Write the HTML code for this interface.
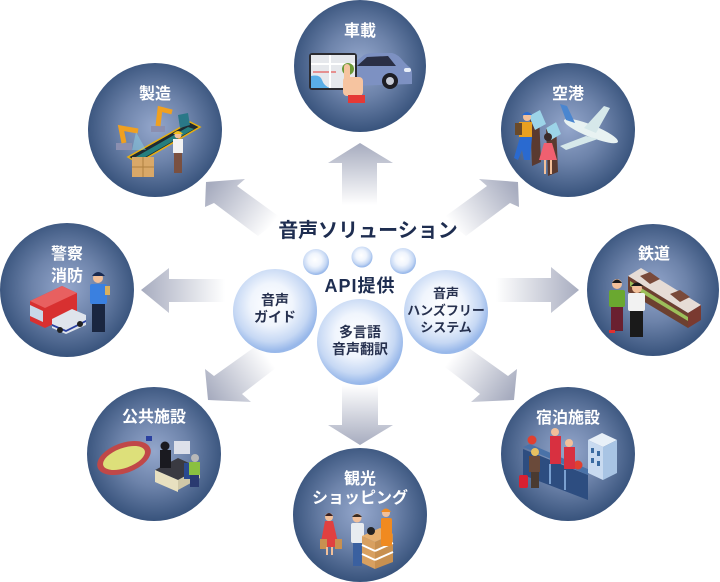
<!DOCTYPE html>
<html><head><meta charset="utf-8">
<style>
html,body{margin:0;padding:0;background:#fff;}
svg{display:block;}
text{font-family:"Liberation Sans","Noto Sans CJK JP",sans-serif;font-weight:bold;}
.w{fill:#fff;font-size:16px;text-anchor:middle;}
.b{fill:#27314f;font-size:14px;text-anchor:middle;}
</style></head>
<body>
<svg width="720" height="582" viewBox="0 0 720 582" xmlns="http://www.w3.org/2000/svg">
<defs>
<radialGradient id="cg" cx="50%" cy="48%" r="52%">
<stop offset="0" stop-color="#94a7cc"/>
<stop offset="0.5" stop-color="#6d83aa"/>
<stop offset="1" stop-color="#38537c"/>
</radialGradient>
<radialGradient id="bg" cx="46%" cy="42%" r="56%">
<stop offset="0" stop-color="#ffffff"/>
<stop offset="0.45" stop-color="#f0f5fd"/>
<stop offset="0.8" stop-color="#c6d8f4"/>
<stop offset="1" stop-color="#98b8ea"/>
</radialGradient>
<linearGradient id="aUp" x1="0" y1="143" x2="0" y2="205" gradientUnits="userSpaceOnUse"><stop offset="0" stop-color="#a7acbf"/><stop offset="1" stop-color="#fff"/></linearGradient>
<linearGradient id="aDn" x1="0" y1="445" x2="0" y2="385" gradientUnits="userSpaceOnUse"><stop offset="0" stop-color="#a7acbf"/><stop offset="1" stop-color="#fff"/></linearGradient>
<linearGradient id="aR" x1="580" y1="0" x2="496" y2="0" gradientUnits="userSpaceOnUse"><stop offset="0" stop-color="#a7acbf"/><stop offset="1" stop-color="#fff"/></linearGradient>
<linearGradient id="aL" x1="141" y1="0" x2="225" y2="0" gradientUnits="userSpaceOnUse"><stop offset="0" stop-color="#a7acbf"/><stop offset="1" stop-color="#fff"/></linearGradient>
<linearGradient id="aNW" x1="210" y1="185" x2="270" y2="228" gradientUnits="userSpaceOnUse"><stop offset="0" stop-color="#a7acbf"/><stop offset="1" stop-color="#fff"/></linearGradient>
<linearGradient id="aNE" x1="514" y1="185" x2="454" y2="228" gradientUnits="userSpaceOnUse"><stop offset="0" stop-color="#a7acbf"/><stop offset="1" stop-color="#fff"/></linearGradient>
<linearGradient id="aSE" x1="510" y1="397" x2="452" y2="356" gradientUnits="userSpaceOnUse"><stop offset="0" stop-color="#a7acbf"/><stop offset="1" stop-color="#fff"/></linearGradient>
<linearGradient id="aSW" x1="209" y1="397" x2="267" y2="356" gradientUnits="userSpaceOnUse"><stop offset="0" stop-color="#a7acbf"/><stop offset="1" stop-color="#fff"/></linearGradient>
</defs>

<!-- arrows -->
<polygon points="360,143 393,163 377,163 377,205 342,205 342,163 328,163" fill="url(#aUp)"/>
<polygon points="360,445 393,425 378,425 378,385 342,385 342,425 328,425" fill="url(#aDn)"/>
<polygon points="579,290 551,267 551,278 496,278 496,302 551,302 551,313" fill="url(#aR)"/>
<polygon points="141,290 169,268 169,279 225,279 225,302 169,302 169,313" fill="url(#aL)"/>
<polygon points="206,182 245,179 237,186 281,218 258,236 214,203 205,207" fill="url(#aNW)"/>
<polygon points="518,182 479,179 487,186 443,218 466,236 510,203 519,207" fill="url(#aNE)"/>
<polygon points="514,400 517,369 508,376 466,346 441,364 480,394 471,402" fill="url(#aSE)"/>
<polygon points="208,400 205,369 214,376 256,346 281,364 242,394 251,402" fill="url(#aSW)"/>

<!-- outer circles -->
<circle cx="360" cy="66" r="66" fill="url(#cg)"/>
<circle cx="155" cy="130" r="67" fill="url(#cg)"/>
<circle cx="568" cy="130" r="67" fill="url(#cg)"/>
<circle cx="67" cy="290" r="67" fill="url(#cg)"/>
<circle cx="653" cy="290" r="66" fill="url(#cg)"/>
<circle cx="154" cy="454" r="67" fill="url(#cg)"/>
<circle cx="568" cy="454" r="67" fill="url(#cg)"/>
<circle cx="360" cy="515" r="67" fill="url(#cg)"/>

<!-- 車載 illustration -->
<path d="M350,66 L364,55 Q368,53 374,53 L392,53 Q398,54 404,62 L408,66 Q412,68 412,74 L412,84 L350,86 Z" fill="#7d91c2"/>
<path d="M357,66 L367,57 L388,56 L396,66 Z" fill="#2a2f45"/>
<circle cx="390" cy="81" r="8" fill="#1e1e24"/><circle cx="390" cy="81" r="4" fill="#c8ccd6"/>
<rect x="404" y="68" width="7" height="4" rx="2" fill="#e8eef8"/>
<rect x="309" y="53" width="48" height="37" rx="3" fill="#2b2b30"/>
<rect x="311" y="55" width="44" height="33" fill="#e6e8ec"/>
<path d="M311,76 Q320,74 322,80 Q324,86 330,88 L311,88 Z" fill="#5aaee6"/>
<line x1="313" y1="72" x2="336" y2="72" stroke="#e53935" stroke-width="1"/>
<line x1="330" y1="55" x2="330" y2="88" stroke="#fff" stroke-width="2"/>
<line x1="311" y1="64" x2="355" y2="64" stroke="#fff" stroke-width="2"/>
<circle cx="348" cy="69" r="6" fill="#6c9a38"/>
<rect x="344" y="64" width="6" height="20" rx="3" fill="#f6c4a0"/>
<rect x="343" y="77" width="20" height="19" rx="4" fill="#f6c4a0"/>
<rect x="348" y="95" width="17" height="8" fill="#e53935"/>

<!-- 製造 illustration -->
<polygon points="128,157 190,122 200,127 138,163" fill="#1f2a33" stroke="#e8b010" stroke-width="1.5"/>
<polygon points="134,158 188,127 194,129 140,160" fill="#2ab8b0" opacity="0.6"/>
<rect x="116" y="143" width="16" height="7" fill="#8b8fb0"/>
<polyline points="124,143 121,128 138,131" fill="none" stroke="#f0a020" stroke-width="5"/>
<polygon points="136,132 146,150 132,150" fill="#8fe0f0" opacity="0.4"/>
<rect x="151" y="126" width="14" height="6" fill="#8b8fb0"/>
<polyline points="158,126 160,109 172,112" fill="none" stroke="#f0a020" stroke-width="5"/>
<path d="M178,115 L188,113 L190,125 L180,128 Z" fill="#2a7888"/>
<rect x="132" y="157" width="22" height="20" fill="#d9a868"/>
<line x1="132" y1="167" x2="154" y2="167" stroke="#b08040"/><line x1="143" y1="157" x2="143" y2="177" stroke="#b08040"/>
<circle cx="178" cy="135" r="3.5" fill="#f2c09a"/><path d="M173,134 Q178,128 183,134 Z" fill="#f2c020"/>
<rect x="173" y="139" width="10" height="14" fill="#f2f2f2"/>
<rect x="174" y="153" width="8" height="20" fill="#7a5040"/>

<!-- 空港 illustration -->
<ellipse cx="591" cy="131" rx="29" ry="6" transform="rotate(22 591 131)" fill="#e8f2f2"/>
<polygon points="584,128 604,106 610,108 596,133" fill="#d6e8ea"/>
<polygon points="586,136 560,146 566,150 598,139" fill="#d6e8ea"/>
<polygon points="566,120 560,104 567,106 575,123" fill="#4a86d0"/>
<polygon points="530,118 539,114 541,162 532,166" fill="#5a3a30"/>
<polygon points="529,116 540,110 546,124 535,130" fill="#9cd4e8"/>
<polygon points="546,128 556,122 558,172 548,176" fill="#5a3a30"/>
<polygon points="546,128 556,122 561,134 551,140" fill="#9cd4e8"/>
<circle cx="527" cy="117" r="4" fill="#f2c09a"/><path d="M522,115 Q527,109 532,115 Z" fill="#2a6ad0"/>
<rect x="519" y="122" width="13" height="15" fill="#e8a020"/>
<rect x="515" y="123" width="7" height="12" fill="#6a4a2a"/>
<polygon points="520,137 532,137 530,160 524,160 522,150 518,160 514,158" fill="#2a6ad0"/>
<circle cx="548" cy="137" r="4" fill="#3a2a2a"/>
<polygon points="544,143 552,143 557,160 539,160" fill="#f06070"/>
<rect x="544" y="160" width="2" height="14" fill="#f2c09a"/><rect x="550" y="160" width="2" height="14" fill="#f2c09a"/>

<!-- 警察消防 illustration -->
<polygon points="30,301 62,286 77,293 77,313 45,328 30,321" fill="#d83030"/>
<polygon points="30,301 62,286 77,293 45,308" fill="#e86060"/>
<polygon points="30,305 43,311 43,322 30,316" fill="#c8d8e8"/>
<polygon points="52,319 72,309 86,315 86,325 66,334 52,328" fill="#dfe4ec"/>
<polygon points="52,324 66,330 86,320 86,322 66,332 52,326" fill="#2a40a0"/>
<circle cx="60" cy="330" r="3" fill="#222"/><circle cx="80" cy="324" r="3" fill="#222"/>
<circle cx="98" cy="278" r="5" fill="#f2c09a"/>
<path d="M92,276 Q98,268 105,276 Z" fill="#1a2a50"/>
<rect x="90" y="284" width="17" height="20" rx="2" fill="#3a80e0"/>
<rect x="92" y="304" width="13" height="28" fill="#1a2640"/>
<rect x="105" y="286" width="5" height="9" fill="#d8b060"/>

<!-- 鉄道 illustration -->
<polygon points="628,276 641,268 701,305 688,313" fill="#e6dcd6"/>
<polygon points="628,276 688,313 688,328 628,292" fill="#6d4030"/>
<polygon points="630,281 688,317 688,321 630,286" fill="#9cbf5a"/>
<polygon points="688,313 701,305 701,320 688,328" fill="#7a3a30"/>
<polygon points="640,276 650,272 660,279 650,284" fill="#7a4a3a"/>
<polygon points="670,294 680,290 690,297 680,302" fill="#7a4a3a"/>
<circle cx="617" cy="284" r="5" fill="#f2c09a"/><path d="M612,283 Q617,276 622,283 Z" fill="#1a1a1a"/>
<rect x="609" y="290" width="16" height="17" rx="2" fill="#6aa830"/>
<rect x="611" y="307" width="12" height="24" fill="#6a2030"/>
<rect x="609" y="330" width="6" height="3" fill="#e03030"/>
<circle cx="637" cy="288" r="5" fill="#f2c09a"/><path d="M631,286 Q637,279 643,286 Z" fill="#1a1a1a"/>
<rect x="628" y="293" width="17" height="18" rx="2" fill="#f2f2f2"/>
<rect x="630" y="311" width="13" height="26" fill="#1a1a1a"/>

<!-- 公共施設 illustration -->
<ellipse cx="124" cy="458" rx="28" ry="15" transform="rotate(-20 124 458)" fill="#c04848"/>
<ellipse cx="124" cy="458" rx="22" ry="10" transform="rotate(-20 124 458)" fill="#dde07a"/>
<rect x="146" y="436" width="6" height="5" fill="#2a40a0"/>
<polygon points="155,470 178,458 200,468 178,480" fill="#3a3a42"/>
<polygon points="155,470 178,480 178,492 155,482" fill="#e8e0c0"/>
<polygon points="178,480 200,468 200,478 178,490" fill="#d0c8a8"/>
<rect x="174" y="441" width="16" height="13" fill="#dde0ea"/>
<circle cx="165" cy="446" r="4.5" fill="#1a1a20"/>
<rect x="160" y="450" width="11" height="18" fill="#1a1a20"/>
<rect x="184" y="463" width="10" height="16" fill="#2a4a90"/>
<circle cx="195" cy="458" r="4" fill="#b8b8b8"/>
<rect x="189" y="462" width="11" height="13" fill="#8ac040"/>
<rect x="190" y="475" width="9" height="12" fill="#2a3a70"/>

<!-- 宿泊施設 illustration -->
<polygon points="523,447 530,444 590,470 588,475" fill="#4a72a8"/>
<polygon points="523,449 588,475 588,500 523,475" fill="#2d4d80"/>
<line x1="535" y1="458" x2="535" y2="478" stroke="#7aa0d0" stroke-width="2"/>
<line x1="550" y1="464" x2="550" y2="484" stroke="#7aa0d0" stroke-width="2"/>
<line x1="565" y1="470" x2="565" y2="490" stroke="#7aa0d0" stroke-width="2"/>
<circle cx="532" cy="440" r="4.5" fill="#e04030"/>
<circle cx="578" cy="465" r="4.5" fill="#e04030"/>
<circle cx="555" cy="432" r="4" fill="#f2c09a"/>
<rect x="550" y="436" width="11" height="28" fill="#d83040"/>
<circle cx="569" cy="443" r="4" fill="#f2c09a"/>
<rect x="564" y="447" width="11" height="22" fill="#d83040"/>
<circle cx="535" cy="452" r="4" fill="#e8c060"/>
<rect x="529" y="456" width="11" height="16" fill="#6a4a3a"/>
<rect x="531" y="472" width="8" height="16" fill="#4a3a30"/>
<rect x="519" y="475" width="9" height="13" rx="2" fill="#d82030"/>
<polygon points="588,440 602,433 617,440 603,447" fill="#e8f0f8"/>
<polygon points="588,440 603,447 603,480 588,473" fill="#c8daf0"/>
<polygon points="603,447 617,440 617,473 603,480" fill="#a8c4e4"/>
<rect x="591" y="448" width="3" height="5" fill="#3a6aa0"/><rect x="597" y="451" width="3" height="5" fill="#3a6aa0"/>
<rect x="591" y="458" width="3" height="5" fill="#3a6aa0"/><rect x="597" y="461" width="3" height="5" fill="#3a6aa0"/>

<!-- 観光 illustration -->
<circle cx="329" cy="517" r="4" fill="#f2c09a"/><path d="M325,516 Q329,510 333,516 Z" fill="#3a2020"/>
<polygon points="325,521 333,521 339,547 320,547" fill="#e04040"/>
<rect x="320" y="539" width="7" height="10" fill="#c89050"/><rect x="335" y="539" width="7" height="10" fill="#c89050"/>
<rect x="326" y="547" width="2" height="8" fill="#f2c09a"/><rect x="331" y="547" width="2" height="8" fill="#f2c09a"/>
<circle cx="357" cy="518" r="4.5" fill="#f2c09a"/><path d="M352,517 Q357,511 362,517 Z" fill="#3a2a20"/>
<rect x="351" y="523" width="13" height="20" rx="2" fill="#e8ecf0"/>
<rect x="353" y="543" width="9" height="23" fill="#3a60a0"/>
<polygon points="362,536 380,528 393,534 375,542" fill="#e6b070"/>
<polygon points="362,536 375,542 375,569 362,563" fill="#d8a060"/>
<polygon points="375,542 393,534 393,562 375,569" fill="#c89050"/>
<line x1="362" y1="545" x2="375" y2="551" stroke="#fff" stroke-width="2"/>
<line x1="362" y1="554" x2="375" y2="560" stroke="#fff" stroke-width="2"/>
<line x1="375" y1="551" x2="393" y2="543" stroke="#fff" stroke-width="2"/>
<line x1="375" y1="560" x2="393" y2="552" stroke="#fff" stroke-width="2"/>
<circle cx="371" cy="531" r="4" fill="#222"/>
<circle cx="386" cy="513" r="4" fill="#f2c09a"/><path d="M381,512 Q386,505 391,512 Z" fill="#f08a20"/>
<rect x="381" y="518" width="11" height="28" rx="2" fill="#f08a20"/>

<!-- outer labels -->
<text class="w" x="360" y="36">車載</text>
<text class="w" x="155" y="99">製造</text>
<text class="w" x="568" y="99">空港</text>
<text class="w" x="67" y="259">警察</text>
<text class="w" x="67" y="281">消防</text>
<text class="w" x="654" y="259">鉄道</text>
<text class="w" x="154" y="422">公共施設</text>
<text class="w" x="568" y="423">宿泊施設</text>
<text class="w" x="360" y="484">観光</text>
<text class="w" x="360" y="503">ショッピング</text>

<!-- center -->
<text x="368" y="237" fill="#1e2d50" font-size="20" text-anchor="middle">音声ソリューション</text>
<circle cx="316" cy="262" r="13" fill="url(#bg)"/>
<circle cx="362" cy="257" r="10.5" fill="url(#bg)"/>
<circle cx="403" cy="261" r="13" fill="url(#bg)"/>
<circle cx="275" cy="311" r="42" fill="url(#bg)"/>
<circle cx="446" cy="312" r="42" fill="url(#bg)"/>
<circle cx="360" cy="342" r="43" fill="url(#bg)"/>
<text x="360" y="292" fill="#1e2d50" font-size="18" letter-spacing="1" text-anchor="middle">API提供</text>
<text class="b" x="275" y="305">音声</text>
<text class="b" x="275" y="322">ガイド</text>
<text class="b" x="360" y="337">多言語</text>
<text class="b" x="360" y="354">音声翻訳</text>
<text class="b" x="446" y="298" style="font-size:13px">音声</text>
<text class="b" x="446" y="315" style="font-size:13px">ハンズフリー</text>
<text class="b" x="446" y="332" style="font-size:13px">システム</text>
</svg>
</body></html>
